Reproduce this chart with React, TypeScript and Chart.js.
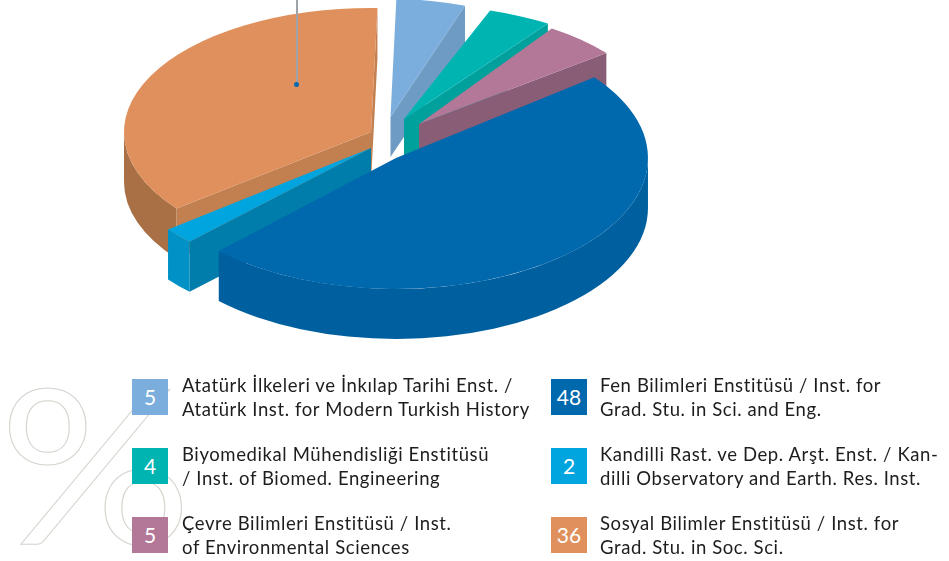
import React, { useEffect, useRef } from "react";
import { Chart, registerables } from "chart.js";

Chart.register(...registerables);

const institutes = [
  "Atatürk İlkeleri ve İnkılap Tarihi Enst.",
  "Biyomedikal Mühendisliği Enstitüsü",
  "Çevre Bilimleri Enstitüsü",
  "Fen Bilimleri Enstitüsü",
  "Kandilli Rast. ve Dep. Arşt. Enst.",
  "Sosyal Bilimler Enstitüsü",
];
const shares = [5, 4, 5, 48, 2, 36];
const topColors = ["#7BAEDD", "#00B5B1", "#B37898", "#0068AD", "#00A5DF", "#E0905C"];
const outerWallColors = ["#6E9BC3", "#00A09C", "#8A5D76", "#005F9E", "#0092C6", "#A87044"];
const radialWallColors = ["#6E9BC3", "#00A09C", "#8A5D76", "#005F9E", "#007DAA", "#C27F50"];
const legendLines = [
  ["Atatürk İlkeleri ve İnkılap Tarihi Enst. /", "Atatürk Inst. for Modern Turkish History"],
  ["Biyomedikal Mühendisliği Enstitüsü", "/ Inst. of Biomed. Engineering"],
  ["Çevre Bilimleri Enstitüsü / Inst.", "of Environmental Sciences"],
  ["Fen Bilimleri Enstitüsü / Inst. for", "Grad. Stu. in Sci. and Eng."],
  ["Kandilli Rast. ve Dep. Arşt. Enst. / Kan-", "dilli Observatory and Earth. Res. Inst."],
  ["Sosyal Bilimler Enstitüsü / Inst. for", "Grad. Stu. in Soc. Sci."],
];

// Layout of the tilted, exploded pie
const RADIUS = 248;
const ROTATION = 1.5;
const sliceCentres = [
  [390.5, 117],
  [404, 119],
  [419, 124],
  [396, 158],
  [371, 148],
  [371, 132],
];
const sliceScaleX = [0.9, 1.04, 0.96, 1.016, 1.04, 0.996];
const sliceScaleY = [0.476, 0.464, 0.464, 0.528, 0.532, 0.5];
const sliceDepths = [40, 40, 41, 50, 50, 50];
const paintOrder = [0, 1, 2, 5, 4, 3];

const pie3d = {
  id: "pie3d",
  beforeDatasetsDraw(chart: any) {
    const ctx = chart.ctx;
    const arcs = chart.getDatasetMeta(0).data;
    paintOrder.forEach((i) => {
      const arc = arcs[i];
      const { x, y, startAngle: s, endAngle: e, outerRadius: r } = arc.getProps(
        ["x", "y", "startAngle", "endAngle", "outerRadius"],
        true
      );
      const d = sliceDepths[i] / sliceScaleY[i];
      ctx.save();
      ctx.translate(sliceCentres[i][0], sliceCentres[i][1]);
      ctx.scale(sliceScaleX[i], sliceScaleY[i]);
      ctx.translate(-x, -y);

      // outer curved wall: only the part facing the viewer
      [-2, 0, 2].forEach((turn) => {
        const a = Math.max(s, turn * Math.PI);
        const b = Math.min(e, (turn + 1) * Math.PI);
        if (b > a) {
          ctx.beginPath();
          ctx.arc(x, y, r, a, b);
          ctx.arc(x, y + d, r, b, a, true);
          ctx.closePath();
          ctx.fillStyle = outerWallColors[i];
          ctx.fill();
        }
      });

      // flat cut walls
      const wall = (angle: number) => {
        const px = x + Math.cos(angle) * r;
        const py = y + Math.sin(angle) * r;
        ctx.beginPath();
        ctx.moveTo(x, y);
        ctx.lineTo(px, py);
        ctx.lineTo(px, py + d);
        ctx.lineTo(x, y + d);
        ctx.closePath();
        ctx.fillStyle = radialWallColors[i];
        ctx.fill();
      };
      if (Math.cos(s) < 0) wall(s);
      if (Math.cos(e) > 0) wall(e);

      arc.draw(ctx);
      ctx.restore();
    });
    return false;
  },
};

const LEGEND_FONT = "Lato, sans-serif";
const rowTops = [379, 448, 517];
const columnLefts = [132, 551];

export default function App() {
  const ref = useRef<HTMLCanvasElement>(null);
  useEffect(() => {
    const chart = new Chart(ref.current as HTMLCanvasElement, {
      type: "pie",
      data: {
        labels: institutes,
        datasets: [{ data: shares, backgroundColor: topColors, borderWidth: 0 }],
      },
      options: {
        responsive: false,
        animation: false,
        radius: RADIUS,
        rotation: ROTATION,
        plugins: { legend: { display: false }, tooltip: { enabled: false } },
        events: [],
      } as any,
      plugins: [pie3d as any],
    });
    return () => chart.destroy();
  }, []);

  return (
    <div style={{ position: "absolute", left: 0, top: 0, width: 949, height: 561, overflow: "hidden", background: "#fff" }}>
      <div
        style={{
          position: "absolute",
          left: -1,
          top: 331,
          fontFamily: "Lato, sans-serif",
          fontSize: 215,
          lineHeight: "260px",
          color: "transparent",
          WebkitTextStroke: "1px #D8D3CD",
          transform: "scaleX(1.12)",
          transformOrigin: "left center",
        }}
      >
        %
      </div>
      <canvas ref={ref} width={949} height={561} style={{ position: "absolute", left: 0, top: 0 }} />
      <div style={{ position: "absolute", left: 296, top: 0, width: 1.5, height: 84, background: "#9EA3A8" }} />
      <div style={{ position: "absolute", left: 294, top: 82, width: 5, height: 5, borderRadius: 3, background: "#0068AD" }} />
      {legendLines.map((lines, i) => {
        const left = columnLefts[i < 3 ? 0 : 1];
        const top = rowTops[i % 3];
        return (
          <React.Fragment key={i}>
            <div
              style={{
                position: "absolute",
                left,
                top,
                width: 36,
                height: 36,
                background: topColors[i],
                color: "#fff",
                fontFamily: LEGEND_FONT,
                fontSize: 21,
                lineHeight: "36px",
                textAlign: "center",
              }}
            >
              {shares[i]}
            </div>
            {lines.map((t, j) => (
              <div
                key={j}
                style={{
                  position: "absolute",
                  left: left + 50 - (i < 3 ? 0 : 1),
                  top: top - 6 + j * 23.5,
                  fontFamily: LEGEND_FONT,
                  fontSize: 18.5,
                  lineHeight: "24px",
                  letterSpacing: 0.6,
                  whiteSpace: "nowrap",
                  color: "#1d1d1f",
                }}
              >
                {t}
              </div>
            ))}
          </React.Fragment>
        );
      })}
    </div>
  );
}
